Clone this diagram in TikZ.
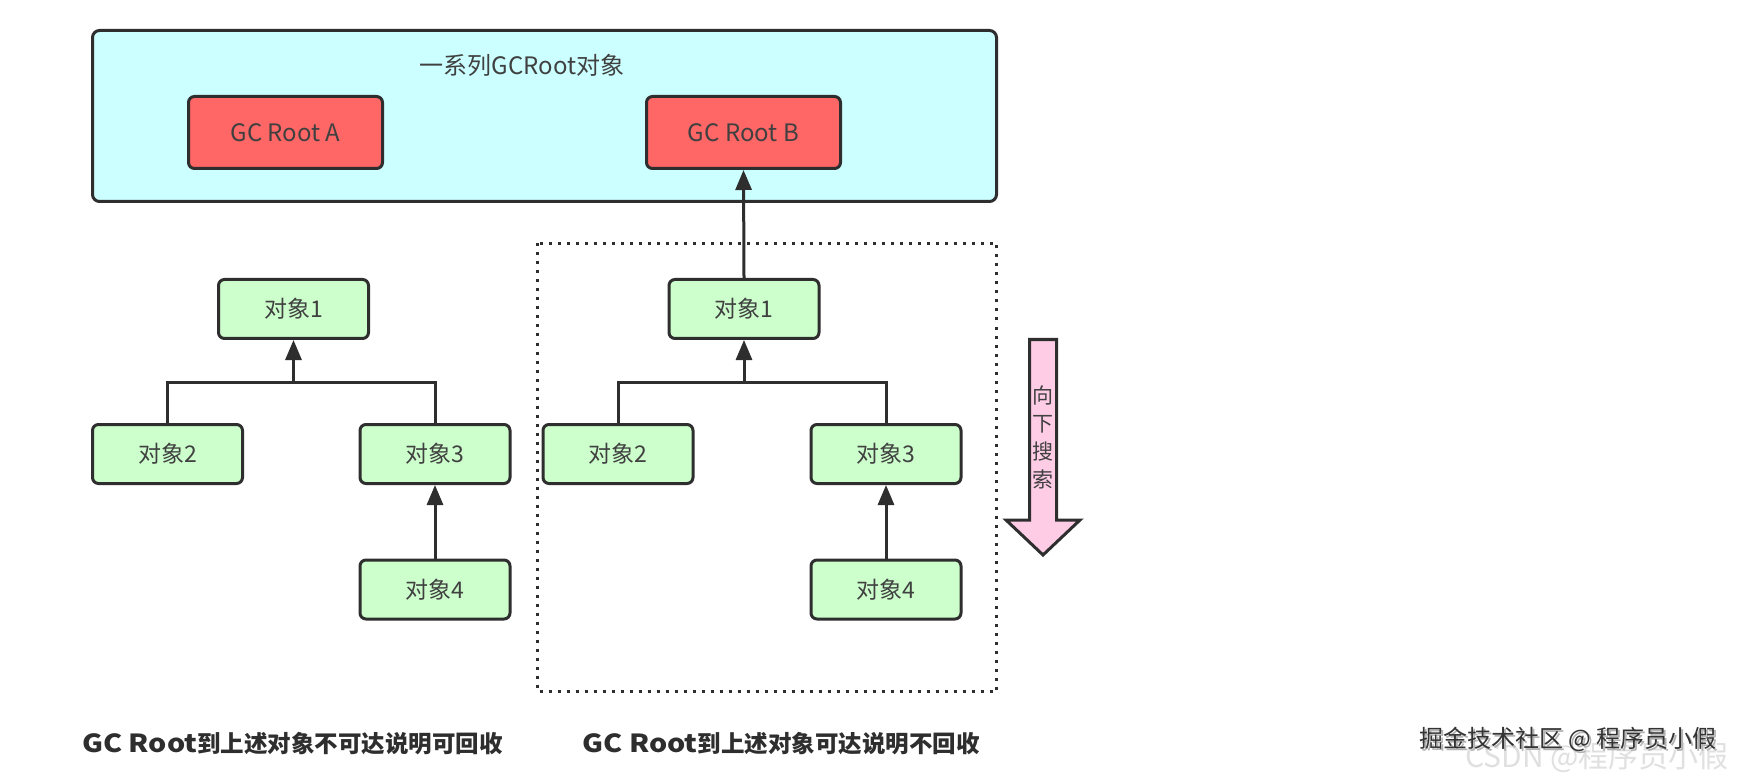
\documentclass[tikz,border=0pt]{standalone}
\usepackage{fontspec}
\usepackage{graphicx}
\setmainfont{Noto Sans CJK SC}
\usetikzlibrary{arrows.meta}
\definecolor{edge}{HTML}{2E2E2E}
\definecolor{txt}{HTML}{404040}
\definecolor{cyanfill}{HTML}{CCFFFF}
\definecolor{redfill}{HTML}{FF6666}
\definecolor{greenfill}{HTML}{CCFFCC}
\definecolor{pinkfill}{HTML}{FFCCE6}
\newcommand{\widelatin}[1]{\scalebox{1.22}[1.06]{#1}}
\begin{document}
\begin{tikzpicture}[x=1pt,y=-1pt,
  box/.style={draw=edge, line width=3pt, rounded corners=6pt, inner sep=0pt,
    font=\fontsize{23}{28}\selectfont, text=txt},
  obj/.style={box, fill=greenfill, minimum width=150pt, minimum height=59pt},
  root/.style={box, fill=redfill, minimum width=194pt, minimum height=72pt, font=\fontsize{24}{28}\selectfont},
  conn/.style={draw=edge, line width=3pt},
  arr/.style={conn, -{Triangle[length=20pt,width=16pt]}},
  caption/.style={font=\fontsize{23.5}{28}\selectfont\bfseries, text=edge, inner sep=0pt},
]
\useasboundingbox[fill=white] (0,0) rectangle (1747,775);

% top container
\draw[draw=edge, fill=cyanfill, line width=3pt, rounded corners=7pt] (92.5,30.5) rectangle (996.5,201.5);
\node[font=\fontsize{24}{28}\selectfont, text=txt, inner sep=0pt] (title) at (522,65) {一系列GCRoot对象};
\node[root] (ga) at (285.5,132.5) {GC Root A};
\node[root] (gb) at (743.5,132.5) {GC Root B};

% dotted container
\draw[draw=edge, line width=3pt, dash pattern=on 3pt off 6pt] (537.5,243.5) rectangle (996.5,691.5);

% left tree
\node[obj] (l1) at (293.5,309) {对象1};
\node[obj] (l2) at (167.5,454) {对象2};
\node[obj] (l3) at (435,454) {对象3};
\node[obj] (l4) at (435,589.5) {对象4};
\coordinate (jl) at (293.5,382);
\draw[conn] (l2.north) -- (l2.north |- jl) -- (l3.north |- jl) -- (l3.north);
\draw[arr] (jl) -- (l1.south);
\draw[arr] (l4.north) -- (l3.south);

% right tree
\node[obj] (r1) at (744,309) {对象1};
\node[obj] (r2) at (618,454) {对象2};
\node[obj] (r3) at (886,454) {对象3};
\node[obj] (r4) at (886,589.5) {对象4};
\coordinate (jr) at (744,382);
\draw[conn] (r2.north) -- (r2.north |- jr) -- (r3.north |- jr) -- (r3.north);
\draw[arr] (jr) -- (r1.south);
\draw[arr] (r4.north) -- (r3.south);
\draw[arr] (r1.north) -- (gb.south);

% search arrow
\draw[draw=edge, fill=pinkfill, line width=3pt] (1029.5,339.5) -- (1056.5,339.5) -- (1056.5,520) -- (1080,520) -- (1043,555) -- (1006,520) -- (1029.5,520) -- cycle;
\node[font=\fontsize{21}{28}\selectfont, text=txt, align=center, inner sep=0pt] (search) at (1043,437) {向\\下\\搜\\索};

% captions
\node[caption] (capl) at (292.5,744) {\widelatin{GC Root}到上述对象不可达说明可回收};
\node[caption] (capr) at (781,744) {\widelatin{GC Root}到上述对象可达说明不回收};

% watermarks
\node[font=\fontsize{30}{34}\selectfont, text=black!12, inner sep=0pt] (wmb) at (1597,757) {CSDN @程序员小假};
\node[font=\fontsize{24}{28}\selectfont, text=black!30, inner sep=0pt] (wms) at (1570,741) {掘金技术社区 @ 程序员小假};
\node[font=\fontsize{24}{28}\selectfont, text=black!80, inner sep=0pt] (wm) at (1568,739) {掘金技术社区 @ 程序员小假};
\end{tikzpicture}
\end{document}
